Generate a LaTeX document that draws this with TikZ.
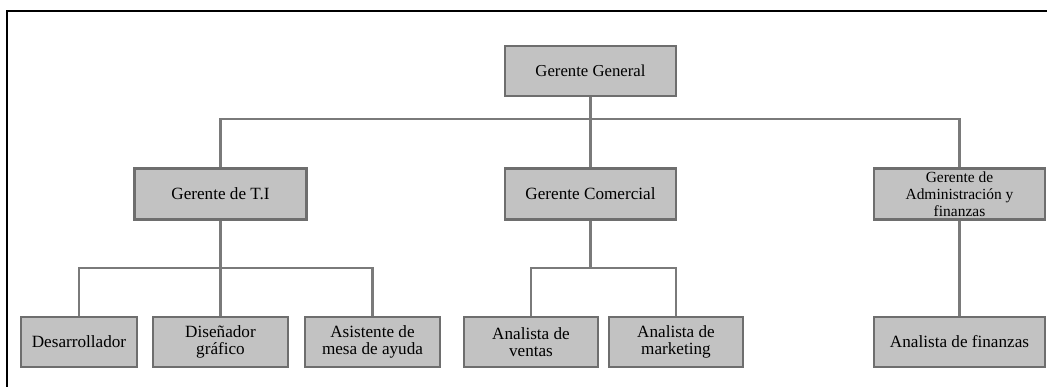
\documentclass[tikz,border=0pt]{standalone}
\usepackage{fontspec}
\setmainfont{Liberation Serif}
\usetikzlibrary{backgrounds}
\definecolor{boxfill}{HTML}{C2C2C2}
\definecolor{boxline}{HTML}{6E6E6E}
\definecolor{linkline}{HTML}{7A7A7A}
\begin{document}
\begin{tikzpicture}[x=0.025cm,y=-0.025cm,
  cargo/.style={draw=boxline, fill=boxfill, line width=1.5pt, align=center,
    inner sep=0pt, font=\fontsize{12.2}{12.5}\selectfont},
  enlace/.style={draw=linkline, line width=1.6pt}]
\useasboundingbox (0,0) rectangle (1047,387);
\draw [line width=0.9pt] (7,387) -- (7,11) -- (1047,11);
\node [cargo, minimum width=4.275cm, minimum height=1.25cm, font=\fontsize{11.9}{12.5}\selectfont] (gg) at (590.5,71) {Gerente General};
\node [cargo, minimum width=4.3cm, minimum height=1.275cm] (ti) at (220.5,194) {Gerente de T.I};
\node [cargo, minimum width=4.275cm, minimum height=1.275cm] (com) at (590.5,194) {Gerente Comercial};
\node [cargo, minimum width=4.275cm, minimum height=1.275cm, font=\fontsize{11}{12}\selectfont] (adm) at (959.5,194) {Gerente de\\Administración y\\finanzas};
\node [cargo, minimum width=2.9cm, minimum height=1.25cm] (des) at (79,342) {Desarrollador};
\node [cargo, minimum width=3.375cm, minimum height=1.25cm] (dis) at (220.5,342) {Diseñador\\gráfico};
\node [cargo, minimum width=3.375cm, minimum height=1.25cm] (asi) at (372.5,342) {Asistente de\\mesa de ayuda};
\node [cargo, minimum width=3.35cm, minimum height=1.25cm] (ven) at (531,342) {Analista de\\ventas};
\node [cargo, minimum width=3.35cm, minimum height=1.25cm] (mar) at (676,342) {Analista de\\marketing};
\node [cargo, minimum width=4.275cm, minimum height=1.25cm] (fin) at (959.5,342) {Analista de finanzas};
\coordinate (bus1) at (590.5,119);
\coordinate (bus2) at (220.5,268);
\coordinate (bus3) at (590.5,268);
\begin{scope}[on background layer]
\draw [enlace] (gg) -- (bus1);
\draw [enlace] (ti.north) |- (bus1) -| (adm.north);
\draw [enlace] (bus1) -- (com.north);
\draw [enlace] (ti) -- (bus2);
\draw [enlace] (des.north) |- (bus2) -| (asi.north);
\draw [enlace] (bus2) -- (dis.north);
\draw [enlace] (com) -- (bus3);
\draw [enlace] (ven.north) |- (bus3) -| (mar.north);
\draw [enlace] (adm) -- (fin);
\end{scope}
\end{tikzpicture}
\end{document}
